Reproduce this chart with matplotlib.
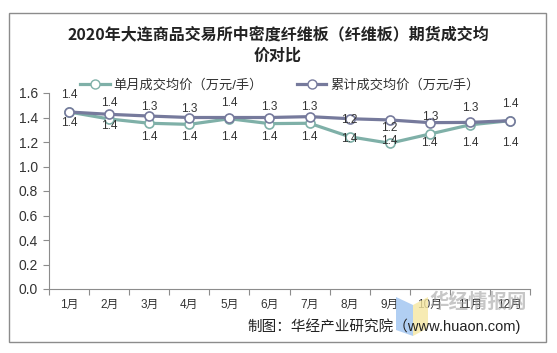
import matplotlib.pyplot as plt
from matplotlib.patches import Polygon, Rectangle
from matplotlib.lines import Line2D

plt.rcParams['font.family'] = ['Liberation Sans', 'Noto Sans CJK SC', 'DejaVu Sans']

months = ['1月', '2月', '3月', '4月', '5月', '6月', '7月', '8月', '9月', '10月', '11月', '12月']
single = [1.445, 1.388, 1.353, 1.344, 1.39, 1.35, 1.353, 1.243, 1.19, 1.265, 1.34, 1.374]
cumul = [1.445, 1.426, 1.412, 1.40, 1.40, 1.40, 1.407, 1.39, 1.38, 1.358, 1.36, 1.374]
single_labels = ['1.4'] * 12
cumul_labels = ['1.4', '1.4', '1.3', '1.3', '1.4', '1.3', '1.3', '1.2', '1.2', '1.3', '1.3', '1.4']
yticks = [0.0, 0.2, 0.4, 0.6, 0.8, 1.0, 1.2, 1.4, 1.6]

title = '2020年大连商品交易所中密度纤维板（纤维板）期货成交均\n价对比'
legend_names = ['单月成交均价（万元/手）', '累计成交均价（万元/手）']
source = '制图：华经产业研究院（www.huaon.com)'

c_single = '#7fb0a8'
c_cumul = '#767a9c'

W, H = 557, 353
fig = plt.figure(figsize=(W / 100, H / 100), dpi=100)
fig.patch.set_facecolor('white')

# outer frame
fig.add_artist(Rectangle((9 / W, 1 - 342 / H), (546 - 9) / W, (342 - 13) / H,
                         transform=fig.transFigure, fill=False, edgecolor='#8c8c8c', lw=1))

ax = fig.add_axes([49 / W, 1 - 289 / H, (530 - 49) / W, (289 - 93) / H])
x = list(range(len(months)))
ax.plot(x, single, color=c_single, lw=2.3, marker='o', ms=6.5,
        mfc='white', mec=c_single, mew=1.2, zorder=3)
ax.plot(x, cumul, color=c_cumul, lw=2.3, marker='o', ms=6.5,
        mfc='white', mec=c_cumul, mew=1.2, zorder=4)

# data label offsets in pixels (label centre relative to point)
cum_off = [17, 11, 9, 9, 14, 10, 10, -1, -8, 6, 14, 17]
sgl_off = [-11, -7, -14, -13, -18, -13, -14, -2, 2, -9, -18, -22]
for i in x:
    ax.annotate(cumul_labels[i], (i, cumul[i]), xytext=(0, cum_off[i]),
                textcoords='offset pixels', ha='center', va='center',
                fontsize=8.5, color='#333333', zorder=5)
    ax.annotate(single_labels[i], (i, single[i]), xytext=(0, sgl_off[i]),
                textcoords='offset pixels', ha='center', va='center',
                fontsize=8.5, color='#333333', zorder=5)

ax.set_xlim(-0.5, 11.5)
ax.set_ylim(0, 1.6)
ax.set_yticks(yticks)
ax.set_yticklabels(['%.1f' % v for v in yticks], fontsize=10, color='#333333')
ax.set_xticks([i + 0.5 for i in range(-1, 12)], minor=False)
ax.set_xticklabels([])
ax.set_xticks(x, minor=True)
ax.set_xticklabels(months, minor=True, fontsize=8.5, color='#333333')
ax.tick_params(axis='x', which='major', length=4, color='#8c8c8c', direction='out')
ax.tick_params(axis='x', which='minor', length=0, pad=7)
ax.tick_params(axis='y', length=4, color='#8c8c8c', direction='out', pad=4)
for s in ['top', 'right']:
    ax.spines[s].set_visible(False)
for s in ['left', 'bottom']:
    ax.spines[s].set_color('#8c8c8c')

fig.text(278 / W, 1 - 45 / H, title, ha='center', va='center', fontsize=11.5,
         fontweight='bold', color='#222222', linespacing=1.4,
         family=['Noto Sans CJK SC', 'DejaVu Sans'])

handles = [Line2D([], [], color=c_single, lw=2.3, marker='o', ms=6.5, mfc='white', mec=c_single),
           Line2D([], [], color=c_cumul, lw=2.3, marker='o', ms=6.5, mfc='white', mec=c_cumul)]
fig.legend(handles, legend_names, loc='center', bbox_to_anchor=(280 / W, 1 - 85 / H),
           ncol=2, frameon=False, fontsize=9.5, handlelength=2.2, handletextpad=0.3,
           columnspacing=2.6, labelcolor='#333333')

# watermark
fig.add_artist(Polygon([(396 / W, 1 - 297 / H), (413 / W, 1 - 305 / H),
                        (413 / W, 1 - 336 / H), (396 / W, 1 - 330 / H)],
                       transform=fig.transFigure, color='#9ec3f0', alpha=0.8, lw=0))
fig.add_artist(Polygon([(413 / W, 1 - 305 / H), (428 / W, 1 - 297 / H),
                        (428 / W, 1 - 328 / H), (413 / W, 1 - 336 / H)],
                       transform=fig.transFigure, color='#f5e7a0', alpha=0.8, lw=0))
fig.text(478 / W, 1 - 302 / H, '华经情报网', ha='center', va='center', fontsize=14,
         color='#9a9a9a', alpha=0.55, fontweight='bold', family=['Noto Sans CJK SC'])

fig.text(521 / W, 1 - 326 / H, source, ha='right', va='center', fontsize=10.5, color='#222222')

fig.savefig('out.png', dpi=100)
